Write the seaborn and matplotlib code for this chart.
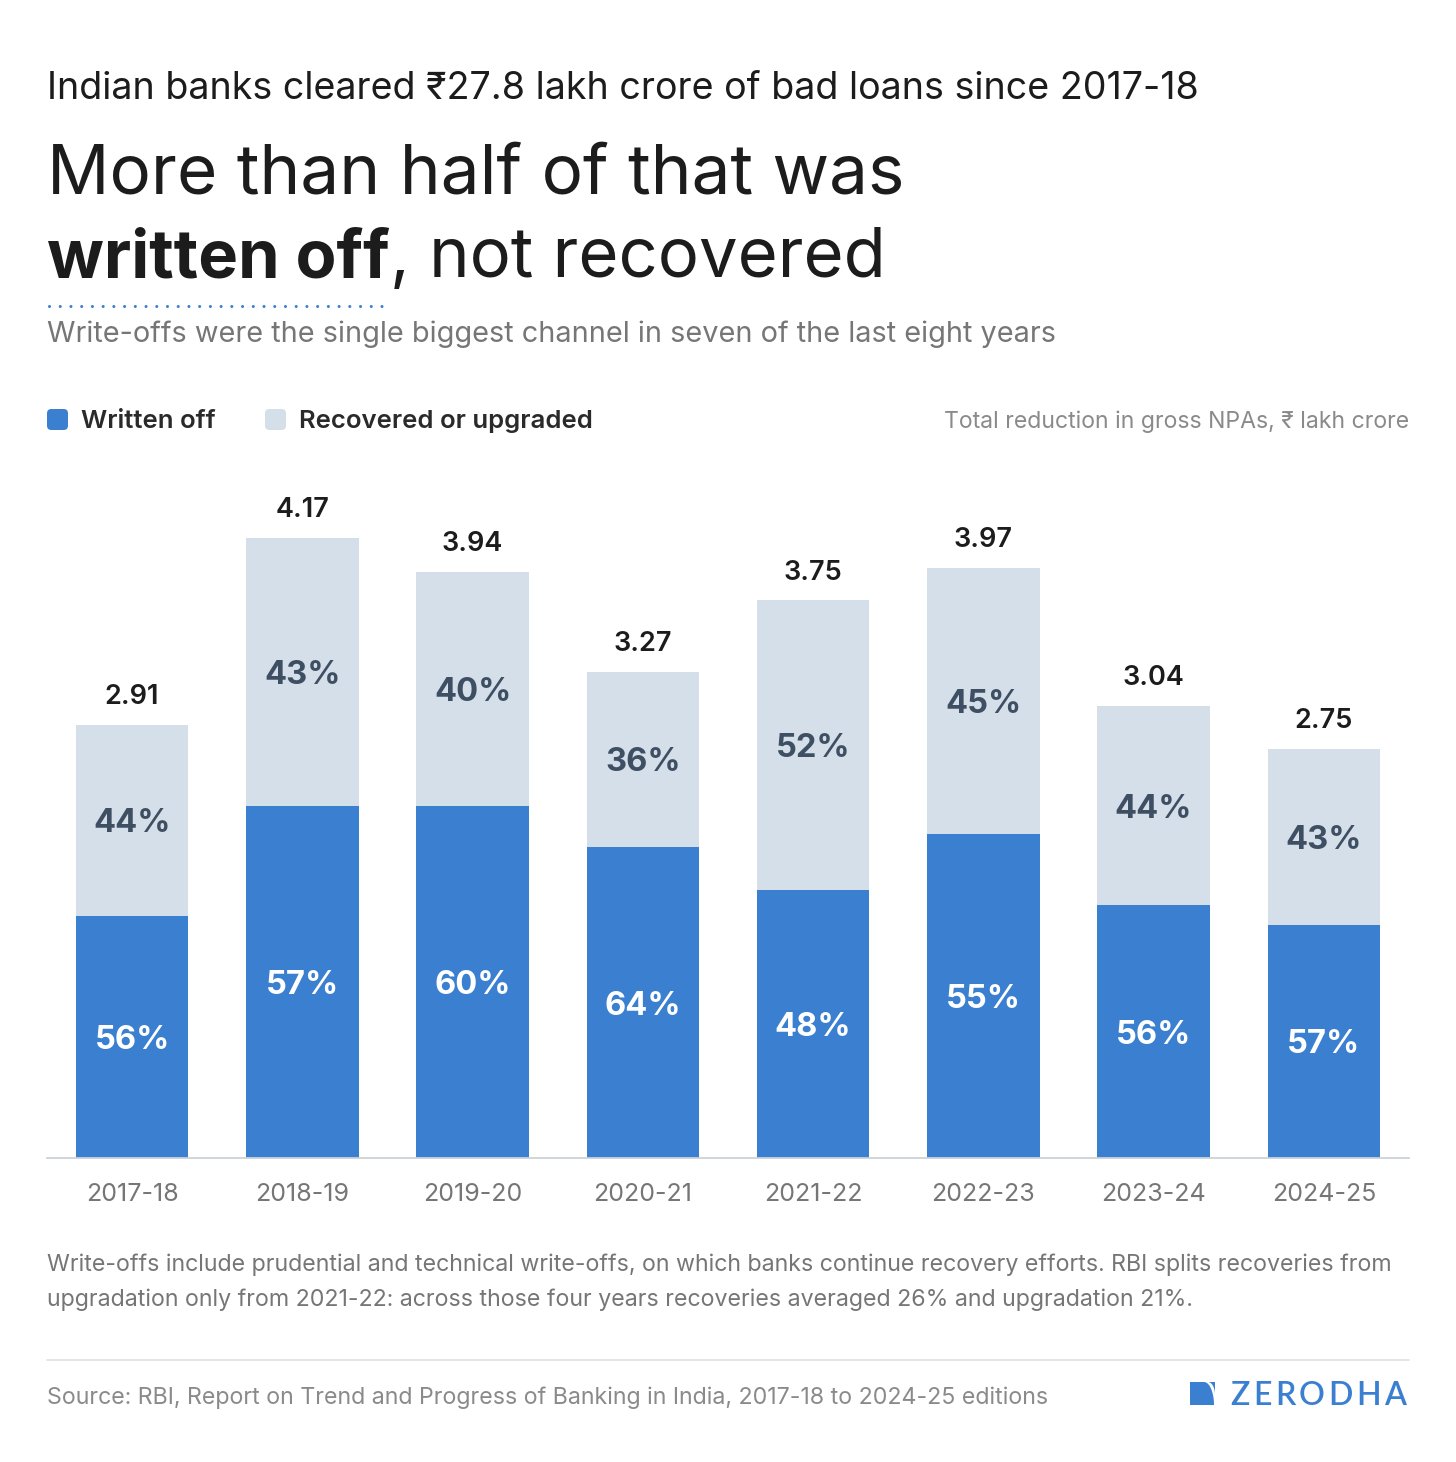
## bibliotecas
import pandas as pd
import numpy as np
import matplotlib.pyplot as plt
import seaborn as sns
from matplotlib.lines import Line2D
from matplotlib.patches import Polygon, FancyBboxPatch

## dados (lakh crore)
anos = ['2017-18', '2018-19', '2019-20', '2020-21', '2021-22', '2022-23', '2023-24', '2024-25']
total = [2.91, 4.17, 3.94, 3.27, 3.75, 3.97, 3.04, 2.75]
written_off = [1.63, 2.37, 2.37, 2.09, 1.80, 2.18, 1.70, 1.57]
pct_written = ['56%', '57%', '60%', '64%', '48%', '55%', '56%', '57%']
pct_recovered = ['44%', '43%', '40%', '36%', '52%', '45%', '44%', '43%']

df = pd.DataFrame({'ano': anos, 'total': total, 'written_off': written_off})

## cores
AZUL = '#3A7FD0'
CLARO = '#D5DFE9'
TXT_CLARO = '#3F4F63'
CINZA = '#767676'
ESCURO = '#1C1C1C'

sns.set_style('white')
plt.rcParams['font.family'] = ['Inter', 'DejaVu Sans']

W, H = 1456, 1462
fig = plt.figure(figsize=(W / 100, H / 100), dpi=100)
fig.patch.set_facecolor('white')


def fx(px):
    return px / W


def fy(py):
    return 1 - py / H


## eixo principal
ax = fig.add_axes([fx(47), fy(1158), fx(1409) - fx(47), fy(474) - fy(1158)])
sns.barplot(data=df, x='ano', y='total', color=CLARO, saturation=1, width=0.66,
            linewidth=0, ax=ax)
sns.barplot(data=df, x='ano', y='written_off', color=AZUL, saturation=1, width=0.66,
            linewidth=0, ax=ax)
ax.set_ylim(0, 4.6)
ax.set_xlim(-0.5, len(anos) - 0.5)
ax.set_xlabel('')
ax.set_ylabel('')
ax.set_yticks([])
for s in ['top', 'right', 'left']:
    ax.spines[s].set_visible(False)
ax.spines['bottom'].set_color('#CDD2D8')
ax.spines['bottom'].set_linewidth(1.3)
ax.tick_params(axis='x', length=0, pad=18, labelsize=18, labelcolor=CINZA)

## rotulos das barras
for i in range(len(anos)):
    ax.annotate(f'{total[i]:.2f}', (i, total[i]), xytext=(0, 15), textcoords='offset points',
                ha='center', va='baseline', fontsize=19.5, fontweight='semibold', color=ESCURO)
    ax.text(i, written_off[i] / 2, pct_written[i], ha='center', va='center_baseline',
            fontsize=23.5, fontweight='bold', color='white')
    ax.text(i, (written_off[i] + total[i]) / 2, pct_recovered[i], ha='center',
            va='center_baseline', fontsize=23.5, fontweight='bold', color=TXT_CLARO)

## titulos
fig.text(fx(47), fy(99), 'Indian banks cleared \u20b927.8 lakh crore of bad loans since 2017-18',
         fontsize=27.1, color=ESCURO, va='baseline')
fig.text(fx(47), fy(193), 'More than half of that was', fontsize=49.8, color=ESCURO, va='baseline')
t1 = fig.text(fx(47), fy(277), 'written off', fontsize=48.2, fontweight='bold', color=ESCURO,
              va='baseline')
r = fig.canvas.get_renderer()
bb = t1.get_window_extent(renderer=r)
fig.text(bb.x1 / W, fy(277), ', not recovered', fontsize=49.5, color=ESCURO, va='baseline')
fig.add_artist(Line2D([fx(49), fx(386)], [fy(306), fy(306)], transform=fig.transFigure,
                      color=AZUL, linewidth=2.2, linestyle=(0, (0.01, 3.5)),
                      dash_capstyle='round'))
fig.text(fx(47), fy(342), 'Write-offs were the single biggest channel in seven of the last eight years',
         fontsize=20.8, color=CINZA, va='baseline')

## legenda
for x0, cor, rot, tx in [(47, AZUL, 'Written off', 81), (265, CLARO, 'Recovered or upgraded', 299)]:
    fig.patches.append(FancyBboxPatch((fx(x0), fy(430)), fx(21), 21 / H,
                                      boxstyle='round,pad=0,rounding_size=0.003',
                                      transform=fig.transFigure, facecolor=cor, edgecolor='none'))
    fig.text(fx(tx), fy(428), rot, fontsize=18.5, fontweight='semibold', color='#2A2A2A',
             va='baseline')
fig.text(fx(1409), fy(428), 'Total reduction in gross NPAs, \u20b9 lakh crore', fontsize=16.6,
         color='#8A8A8A', va='baseline', ha='right')

## nota de rodape
fig.text(fx(47), fy(1271),
         'Write-offs include prudential and technical write-offs, on which banks continue recovery efforts. RBI splits recoveries from',
         fontsize=16.7, color=CINZA, va='baseline')
fig.text(fx(47), fy(1306),
         'upgradation only from 2021-22: across those four years recoveries averaged 26% and upgradation 21%.',
         fontsize=16.7, color=CINZA, va='baseline')
fig.add_artist(Line2D([fx(47), fx(1409)], [fy(1360), fy(1360)], transform=fig.transFigure,
                      color='#E3E3E3', linewidth=1.3))
fig.text(fx(47), fy(1404), 'Source: RBI, Report on Trend and Progress of Banking in India, 2017-18 to 2024-25 editions',
         fontsize=16.7, color='#8A8A8A', va='baseline')

## logo
ang = np.linspace(0, np.pi / 2, 20)
arco = [(1204 + 10 * np.sin(a), 1382 + 23 * (1 - np.cos(a))) for a in ang]
esq = [(1190, 1382)] + arco + [(1190, 1405)]
fig.patches.append(Polygon([(fx(px), fy(py)) for px, py in esq], closed=True,
                           transform=fig.transFigure, facecolor=AZUL, edgecolor='none'))
arco2 = [(1208 + 7 * np.sin(a), 1382 + 13 * (1 - np.cos(a))) for a in ang]
dir_ = [(1215, 1382), (1215, 1395)] + arco2[::-1]
fig.patches.append(Polygon([(fx(px), fy(py)) for px, py in dir_], closed=True,
                           transform=fig.transFigure, facecolor=AZUL, edgecolor='none'))
## letras do logo com espacamento
xl = 1230
for letra in 'ZERODHA':
    tl = fig.text(fx(xl), fy(1405), letra, fontsize=23, fontweight='semibold', color=AZUL,
                  va='baseline', family=['Lato', 'DejaVu Sans'])
    xl += tl.get_window_extent(renderer=r).width + 3.5

plt.savefig('out.png', dpi=100)
plt.close()
